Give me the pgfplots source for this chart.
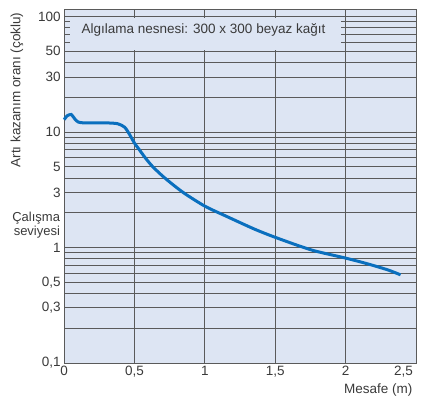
\documentclass[border=0pt]{standalone}
\usepackage{fontspec}
\setmainfont{Liberation Sans}
\usepackage{pgfplots}
\pgfplotsset{compat=1.18}
\usetikzlibrary{calc}
\definecolor{bgblue}{HTML}{DDE5F3}
\definecolor{gridgray}{HTML}{5A5A5A}
\definecolor{curveblue}{HTML}{0A6FBE}
\definecolor{txt}{HTML}{3A3A3A}
\begin{document}
\begin{tikzpicture}
\begin{axis}[
  scale only axis,
  width=351.8bp, height=353bp,
  xmin=0, xmax=2.5,
  ymode=log, ymin=0.1, ymax=114,
  axis background/.style={fill=bgblue},
  xtick={0,0.5,1,1.5,2,2.5},
  xticklabels={0,{0,5},1,{1,5},2,{\makebox[0pt][r]{2,5\hspace{3bp}}}},
  ytick={0.1,0.2,0.3,0.4,0.5,0.6,0.7,0.8,0.9,1,2,3,4,5,6,7,8,9,10,20,30,40,50,60,70,80,90,100},
  yticklabels={{0,1},,{0,3},,{0,5},,,,,1,,3,,5,,,,,10,,30,,50,,,,,100},
  xmajorgrids, ymajorgrids,
  minor tick num=0,
  major tick length=0pt, minor tick length=0pt,
  grid style={draw=gridgray, line width=0.9bp},
  axis line style={draw=gridgray, line width=1bp},
  tick label style={font=\fontsize{13.5bp}{15bp}\selectfont, text=txt},
  clip=false,
]
\addplot[curveblue, line width=3bp, smooth, tension=0.45] coordinates {
(0.0,12.8) (0.02,13.8) (0.05,14.2) (0.075,13.0) (0.1,12.2) (0.15,12.0)
(0.3,12.0) (0.38,11.8) (0.43,11.0) (0.465,9.5) (0.5,8.0) (0.535,7.0)
(0.58,5.9) (0.63,5.0) (0.715,4.0) (0.845,3.0) (1.0,2.28) (1.15,1.87)
(1.36,1.43) (1.52,1.2) (1.76,0.95) (2.0,0.81) (2.16,0.72) (2.3,0.64)
(2.39,0.58)
};
\fill[bgblue] (axis cs:0.04,51.5) rectangle (axis cs:1.97,97);
\node[font=\fontsize{13.5bp}{15bp}\selectfont, text=txt] at (axis cs:0.99,77) {Algılama nesnesi: 300 x 300 beyaz kağıt};
\node[anchor=north east, align=right, inner sep=0pt, font=\fontsize{13bp}{14.5bp}\selectfont, text=txt] at ($(axis cs:0,2)+(-4bp,1bp)$) {Çalışma\\seviyesi};
\end{axis}
\node[rotate=90, font=\fontsize{13.5bp}{15bp}\selectfont, text=txt] at ([shift={(-47.2bp,273bp)}]current axis.south west) {Artı kazanım oranı (çoklu)};
\node[anchor=east, font=\fontsize{13.5bp}{15bp}\selectfont, text=txt] at ([shift={(0bp,-27bp)}]current axis.south east) {Mesafe (m)};
\pgfresetboundingbox
\path ([shift={(-64.2bp,-40bp)}]current axis.south west) rectangle ([shift={(6bp,10bp)}]current axis.north east);
\end{tikzpicture}
\end{document}
